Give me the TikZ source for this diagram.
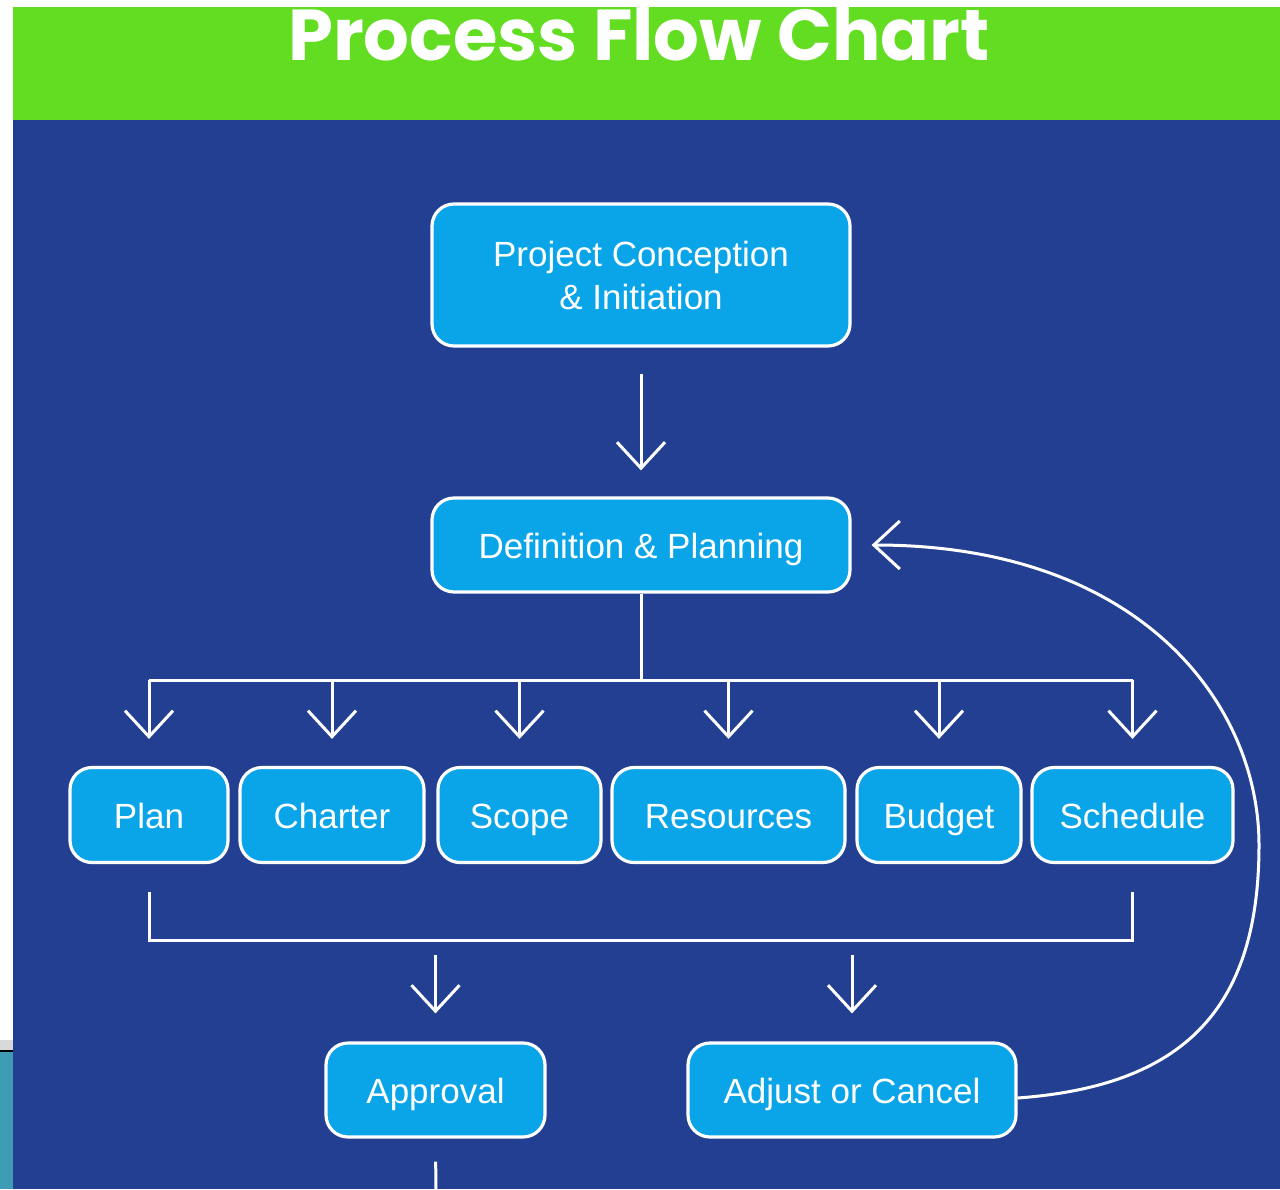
\documentclass[tikz,border=0pt]{standalone}
\usepackage{fontspec}
\setmainfont{Liberation Sans}
\newfontfamily\titlefont{Poppins}
\usetikzlibrary{arrows.meta}

\definecolor{bgblue}{HTML}{233F91}
\definecolor{bargreen}{HTML}{62DD22}
\definecolor{boxblue}{HTML}{0AA5E8}
\definecolor{stripteal}{HTML}{3E9DB5}

\begin{document}
\begin{tikzpicture}[x=0.5pt, y=-0.5pt,
    stepbox/.style={draw=white, line width=1.6pt, fill=boxblue, rounded corners=11pt,
      text=white, font=\fontsize{17.5}{21}\selectfont, inner sep=0pt, align=center,
      text height=15pt, text depth=2pt, minimum height=47.5pt},
    flow/.style={draw=white, line width=1.5pt},
    >={Straight Barb[length=13pt, width=24pt, line width=1.5pt]}]
  \useasboundingbox (0,0) rectangle (1280,1189);
  \clip (0,0) rectangle (1280,1189);
  % background
  \fill[white] (0,0) rectangle (1280,1189);
  \fill[bgblue] (13,120) rectangle (1280,1189);
  \fill[bargreen] (13,7) rectangle (1280,120);
  \fill[black!15] (0,1040) rectangle (13,1050);
  \fill[stripteal] (0,1052) rectangle (13,1189);
  \draw[black, line width=1pt] (0,1051) -- (13,1051);
  \node[text=white, font=\titlefont\bfseries\fontsize{36}{40}\selectfont, anchor=base] (title) at (639,60) {Process Flow Chart};

  % boxes
  \node[stepbox, font=\fontsize{17.5}{21.5}\selectfont, text height={}, text depth={},
    minimum width=209pt, minimum height=71pt] (concept) at (641,275) {Project Conception\\ \& Initiation};
  \node[stepbox, minimum width=209pt, minimum height=47pt] (define) at (641,545) {Definition \& Planning};
  \node[stepbox, minimum width=79pt] (plan) at (149,815) {Plan};
  \node[stepbox, minimum width=92pt] (charter) at (332,815) {Charter};
  \node[stepbox, minimum width=81.5pt] (scope) at (519.5,815) {Scope};
  \node[stepbox, minimum width=116.5pt] (resources) at (728.5,815) {Resources};
  \node[stepbox, minimum width=82pt] (budget) at (939,815) {Budget};
  \node[stepbox, minimum width=100.5pt] (schedule) at (1132.5,815) {Schedule};
  \node[stepbox, minimum width=109.5pt, minimum height=47pt] (approve) at (435.5,1090) {Approval};
  \node[stepbox, minimum width=164pt, minimum height=47pt] (adjust) at (852,1090) {Adjust or Cancel};

  \coordinate (busTop) at (641,680);
  \coordinate (busLow) at (641,940);
  \coordinate (loopR) at (1259,845);
  \coordinate (exit) at (436,1200);

  % connectors
  \draw[flow, ->, shorten <=13pt, shorten >=13pt] (concept.south) -- (define.north);
  \draw[flow] (define.south) -- (busTop);
  \draw[flow] (plan.north |- busTop) -- (schedule.north |- busTop);
  \foreach \n in {plan,charter,scope,resources,budget,schedule}
    \draw[flow, ->, shorten >=13.5pt] (\n.north |- busTop) -- (\n.north);
  \draw[flow, shorten <=14pt, shorten >=14pt] (plan.south) |- (busLow) -| (schedule.south);
  \draw[flow, ->, shorten <=7.5pt, shorten >=14pt] (approve.north |- busLow) -- (approve.north);
  \draw[flow, ->, shorten <=7.5pt, shorten >=14pt] (adjust.north |- busLow) -- (adjust.north);
  \draw[flow, shorten <=11.5pt] (approve.south) -- (exit);
  \draw[flow, ->, shorten >=10pt] (adjust.east) ++(0,8) .. controls +(165,-12) and +(0,165) .. (loopR)
    .. controls +(0,-140) and +(290,0) .. (define.east);
\end{tikzpicture}
\end{document}
